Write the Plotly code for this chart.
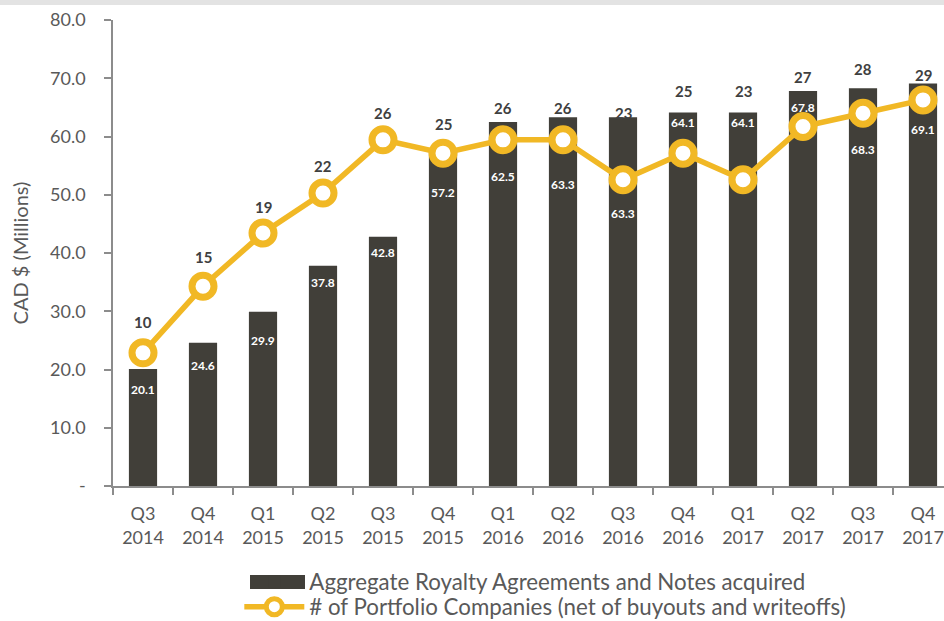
import plotly.graph_objects as go

quarters = ["Q3<br>2014", "Q4<br>2014", "Q1<br>2015", "Q2<br>2015", "Q3<br>2015", "Q4<br>2015",
            "Q1<br>2016", "Q2<br>2016", "Q3<br>2016", "Q4<br>2016", "Q1<br>2017", "Q2<br>2017",
            "Q3<br>2017", "Q4<br>2017"]
aggregate = [20.1, 24.6, 29.9, 37.8, 42.8, 57.2, 62.5, 63.3, 63.3, 64.1, 64.1, 67.8, 68.3, 69.1]
companies = [10, 15, 19, 22, 26, 25, 26, 26, 23, 25, 23, 27, 28, 29]
y_tickvals = [0, 10, 20, 30, 40, 50, 60, 70, 80]
y_ticktext = ["-", "10.0", "20.0", "30.0", "40.0", "50.0", "60.0", "70.0", "80.0"]

# label placement offsets (pixels), style only
bar_label_drop = [21, 23, 29, 17, 16, 40, 55, 67, 96, 10, 10, 16, 61, 46]
count_label_rise = [31, 29, 26, 27, 27, 29, 32, 32, 67, 62, 89, 50, 44, 25]

BAR = "#413F39"
GOLD = "#F1B825"
GRAY = "#595959"
FONT = "Lato"

fig = go.Figure()
fig.add_trace(go.Bar(
    x=quarters, y=aggregate, name="Aggregate Royalty Agreements and Notes acquired",
    marker=dict(color=BAR, line=dict(width=0)), width=0.47,
    hoverinfo="skip", legend="legend",
))
fig.add_trace(go.Scatter(
    x=quarters, y=companies, yaxis="y2", mode="lines+markers",
    name="# of Portfolio Companies (net of buyouts and writeoffs)",
    line=dict(color=GOLD, width=5.5),
    marker=dict(symbol="circle", size=22, color="white", line=dict(color=GOLD, width=7)),
    hoverinfo="skip", legend="legend2",
))

annotations = []
for q, v, d in zip(quarters, aggregate, bar_label_drop):
    annotations.append(dict(x=q, y=v, xref="x", yref="y", text=f"{v:.1f}", showarrow=False,
                            yshift=-d, yanchor="middle",
                            font=dict(family=FONT, size=12, color="white", weight="bold")))
for q, c, r in zip(quarters, companies, count_label_rise):
    annotations.append(dict(x=q, y=c, xref="x", yref="y2", text=str(c), showarrow=False,
                            yshift=r, yanchor="middle",
                            font=dict(family=FONT, size=15, color="#404040", weight="bold")))

legend_style = dict(orientation="v", x=0.152, xanchor="left", yanchor="top",
                    font=dict(family=FONT, size=22.3, color=GRAY),
                    bgcolor="rgba(0,0,0,0)", itemwidth=60)

fig.update_layout(
    width=944, height=621,
    margin=dict(l=113, r=0, t=20, b=135, autoexpand=False),
    paper_bgcolor="white", plot_bgcolor="white",
    font=dict(family=FONT, color=GRAY),
    showlegend=True,
    legend=dict(legend_style, y=-0.16),
    legend2=dict(legend_style, y=-0.214),
    xaxis=dict(type="category", range=[-0.5, 13.35], showgrid=False, showline=True,
               linecolor="#8c8c8c", linewidth=1.5, ticks="outside", tickson="boundaries",
               ticklen=7, tickcolor="#8c8c8c", tickwidth=1.5, automargin=False,
               tickfont=dict(family=FONT, size=18, color=GRAY), ticklabelstandoff=11),
    yaxis=dict(range=[0, 80], tickvals=y_tickvals, ticktext=y_ticktext, showgrid=False,
               showline=True, linecolor="#8c8c8c", linewidth=1.5, ticks="outside", ticklen=7,
               tickcolor="#8c8c8c", tickwidth=1.5, zeroline=False, automargin=False,
               tickfont=dict(family=FONT, size=18, color=GRAY), ticklabelstandoff=15,
               title=dict(text="CAD $ (Millions)", standoff=16,
                          font=dict(family=FONT, size=20, color=GRAY))),
    yaxis2=dict(range=[0, 35], overlaying="y", side="right", visible=False),
    annotations=annotations,
    shapes=[
        dict(type="rect", xref="paper", yref="paper", x0=-0.2, x1=1.0, y0=1.032, y1=1.06,
             fillcolor="#e3e3e3", line=dict(width=0), layer="above"),
        # wide swatch for the bar legend entry, as in the reference
        dict(type="rect", xref="paper", yref="paper",
             x0=(250 - 113) / 831, x1=(305 - 113) / 831,
             y0=-(589 - 486) / 466, y1=-(575 - 486) / 466,
             fillcolor=BAR, line=dict(width=0), layer="above"),
    ],
)

fig.write_html("out.html", config={"displayModeBar": False},
               post_script="document.body.style.margin='0';document.body.style.overflow='hidden';")
